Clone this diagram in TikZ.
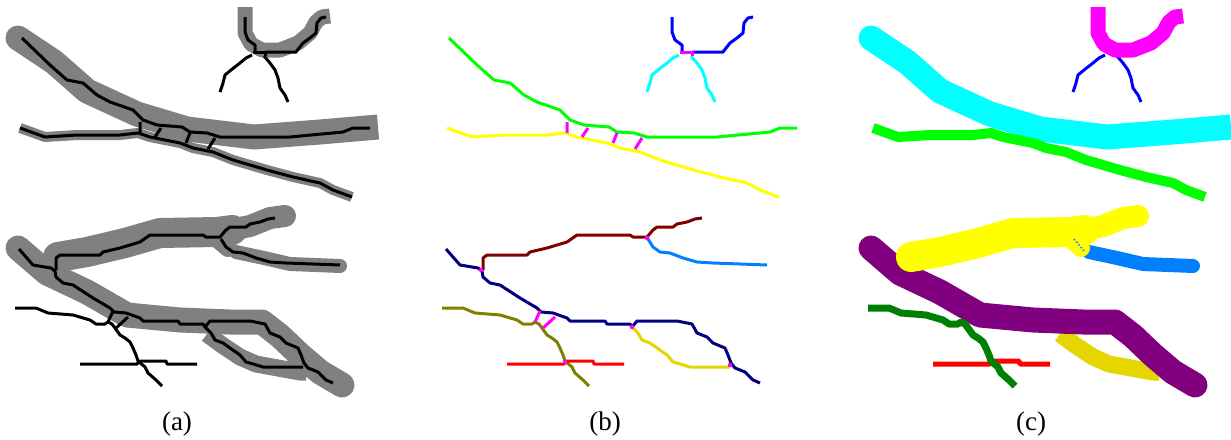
\documentclass[tikz,border=0pt]{standalone}
\usepackage{fontspec}
\setmainfont{Liberation Serif}
\definecolor{vgray}{HTML}{808080}
\definecolor{vgreen}{HTML}{00FF00}
\definecolor{vyellow}{HTML}{FFFF00}
\definecolor{vmag}{HTML}{FF00FF}
\definecolor{vblue}{HTML}{0000FF}
\definecolor{vcyan}{HTML}{00FFFF}
\definecolor{vmaroon}{HTML}{800000}
\definecolor{vsky}{HTML}{0080FF}
\definecolor{vnavy}{HTML}{000080}
\definecolor{volive}{HTML}{808000}
\definecolor{vred}{HTML}{FF0000}
\definecolor{vgold}{HTML}{E5D600}
\definecolor{vpurple}{HTML}{800080}
\definecolor{vdkgreen}{HTML}{008000}

% centre lines, in the frame of panel (a)
\newcommand{\skUpper}{(22,38) -- (50,65) -- (67,80) -- (83,83) -- (97,95) -- (110,102) -- (133,110) -- (143,120) -- (157,125) -- (182,127) -- (190,132) -- (207,133) -- (220,137) -- (290,137) -- (343,132) -- (353,128) -- (370,128)}
\newcommand{\skLower}{(20,128) -- (45,137) -- (77,135) -- (120,135) -- (138,133) -- (150,137) -- (180,143) -- (193,148) -- (213,152) -- (233,160) -- (267,170) -- (293,177) -- (320,183) -- (333,190) -- (352,197)}
\newcommand{\skLinks}{(140,122) -- (140,133) (161,128) -- (155,137) (190,133) -- (186,143) (215,138) -- (208,149)}
\newcommand{\skCupL}{(245,17) -- (245,32) -- (248,40) -- (255,45) -- (255,51)}
\newcommand{\skCupR}{(265,52) -- (296,52) -- (303,43) -- (310,38) -- (316,33) -- (317,23) -- (321,18) -- (326,17)}
\newcommand{\skCupJ}{(253,52) -- (265,52) -- (265,56)}
\newcommand{\skArmL}{(252,55) -- (246,58) -- (240,63) -- (231,70) -- (225,75) -- (223,83) -- (220,92)}
\newcommand{\skArmR}{(264,56) -- (270,63) -- (275,70) -- (278,78) -- (280,88) -- (285,95) -- (288,102)}
\newcommand{\skNavy}{(19,249) -- (33,265) -- (51,268) -- (55,271) -- (56,277) -- (63,283) -- (73,285) -- (93,298) -- (110,308) -- (114,312) -- (126,313) -- (140,318) -- (143,321) -- (178,321) -- (180,324) -- (203,324) -- (205,327) -- (210,321) -- (250,321) -- (265,324) -- (270,333) -- (280,337) -- (286,343) -- (298,348) -- (301,355) -- (304,363) -- (308,368) -- (318,372) -- (326,380) -- (333,383)}
\newcommand{\skBrown}{(56,270) -- (56,258) -- (60,255) -- (100,255) -- (103,252) -- (120,248) -- (140,242) -- (150,235) -- (203,235) -- (206,237) -- (220,237) -- (226,230) -- (230,227) -- (246,227) -- (250,224) -- (260,222) -- (268,219) -- (275,218)}
\newcommand{\skSky}{(221,239) -- (226,247) -- (233,252) -- (243,253) -- (256,258) -- (270,262) -- (286,263) -- (340,265)}
\newcommand{\skOlive}{(15,308) -- (36,308) -- (48,313) -- (73,315) -- (90,320) -- (96,324) -- (105,324) -- (108,322) -- (112,324) -- (115,328) -- (120,335) -- (125,338) -- (130,342) -- (133,348) -- (136,355) -- (138,361) -- (145,367) -- (148,373) -- (156,380) -- (162,386)}
\newcommand{\skRed}{(80,364) -- (137,364) -- (140,361) -- (166,361) -- (167,364) -- (197,364)}
\newcommand{\skLoop}{(205,327) -- (211,333) -- (215,340) -- (223,343) -- (230,348) -- (240,355) -- (246,362) -- (253,364) -- (263,367) -- (303,367)}
\newcommand{\skNavyLinks}{(113,311) -- (108,322) (128,317) -- (116,328)}

% segmented vessel bodies
\newcommand{\bdUpper}{(18,38) -- (54,62) -- (87,91) -- (137,114) -- (187,129) -- (254,137) -- (320,132) -- (378,127)}
\newcommand{\bdCup}{(245,7) -- (245,33) -- (251,44) -- (262,50) -- (280,50) -- (298,43) -- (310,33) -- (316,22) -- (322,17) -- (330,16)}
\newcommand{\bdBrownA}{(58,257) -- (87,252) -- (125,243) -- (160,233) -- (217,232) -- (232,230)}
\newcommand{\bdBrownB}{(220,232) -- (250,226) -- (270,218) -- (285,216)}
\newcommand{\bdBrownJ}{(214,236) -- (228,248)}
\newcommand{\bdSky}{(236,252) -- (264,258) -- (290,264) -- (340,266)}
\newcommand{\bdNavy}{(18,248) -- (47,273) -- (87,292) -- (127,315) -- (180,320) -- (230,322) -- (262,322) -- (280,336) -- (300,355) -- (320,372) -- (342,385)}
\newcommand{\bdLoop}{(207,334) -- (222,345) -- (240,357) -- (256,364) -- (300,372) -- (306,372)}

\begin{document}
\begin{tikzpicture}[x=1pt, y=-1pt,
    skel/.style={line width=3pt, line join=round},
    body/.style={line width=#1, line join=round, line cap=round},
    slab/.style={line width=#1, line join=round},
    jct/.style={vmag, line width=3pt},
    lbl/.style={font=\fontsize{27}{31}\selectfont, inner sep=0pt},
  ]
  \useasboundingbox (0,0) rectangle (1231,439);

  % (a) segmentation in gray, centre lines in black
  \begin{scope}
    \draw[vgray, slab=25] \bdUpper;
    \fill[vgray] (18,38) circle (12.5);
    \draw[vgray, slab=15] \bdCup;
    \draw[vgray, slab=10] \skLower;
    \draw[vgray, body=30] \bdBrownA;
    \draw[vgray, body=22] \bdBrownB;
    \draw[vgray, body=18] \bdBrownJ;
    \draw[vgray, body=14] \bdSky;
    \draw[vgray, body=25] \bdNavy;
    \draw[vgray, slab=17] \bdLoop;
    \draw[skel] \skUpper;
    \draw[skel] \skLower;
    \draw[skel] \skLinks;
    \draw[skel] \skCupL;
    \draw[skel] \skCupR;
    \draw[skel] \skCupJ;
    \draw[skel] \skArmL;
    \draw[skel] \skArmR;
    \draw[skel] \skNavy;
    \draw[skel] \skBrown;
    \draw[skel] \skSky;
    \draw[skel] \skOlive;
    \draw[skel] \skRed;
    \draw[skel] \skLoop;
    \draw[skel] \skNavyLinks;
  \end{scope}

  % (b) labelled centre lines, crossings in magenta
  \begin{scope}[shift={(427,0)}]
    \draw[skel, vgreen] \skUpper;
    \draw[skel, vyellow] \skLower;
    \draw[skel, vblue] \skCupL;
    \draw[skel, vblue] \skCupR;
    \draw[skel, vcyan] \skArmL;
    \draw[skel, vcyan] \skArmR;
    \draw[skel, vnavy] \skNavy;
    \draw[skel, vmaroon] \skBrown;
    \draw[skel, vsky] \skSky;
    \draw[skel, volive] \skOlive;
    \draw[skel, vred] \skRed;
    \draw[skel, vgold] \skLoop;
    \draw[jct] \skLinks;
    \draw[jct] \skCupJ;
    \draw[jct] \skNavyLinks;
    \foreach \p in {(54,270), (220,238), (205,327), (303,365), (138,362)}
      \fill[vmag] \p circle (2.2);
  \end{scope}

  % (c) labelled vessels
  \begin{scope}[shift={(853,0)}]
    \draw[skel, vblue] \skArmL;
    \draw[skel, vblue] \skArmR;
    \draw[vmag, slab=15] \bdCup;
    \draw[vcyan, slab=25] \bdUpper;
    \fill[vcyan] (18,38) circle (12.5);
    \draw[vgreen, slab=10] \skLower;
    \draw[vgold, slab=17] \bdLoop;
    \draw[vpurple, body=25] \bdNavy;
    \draw[vsky, body=14] \bdSky;
    \draw[vyellow, body=30] \bdBrownA;
    \draw[vyellow, body=22] \bdBrownB;
    \draw[vyellow, body=18] \bdBrownJ;
    \draw[vsky, line width=1.5pt, dotted] (221,239) -- (232,252);
    \draw[vred, line width=5pt, line join=round] \skRed;
    \draw[vdkgreen, line width=7pt, line join=round] \skOlive;
  \end{scope}

  \node[lbl] (capa) at (177,424) {(a)};
  \node[lbl] (capb) at (605,424) {(b)};
  \node[lbl] (capc) at (1031,424) {(c)};
\end{tikzpicture}
\end{document}
